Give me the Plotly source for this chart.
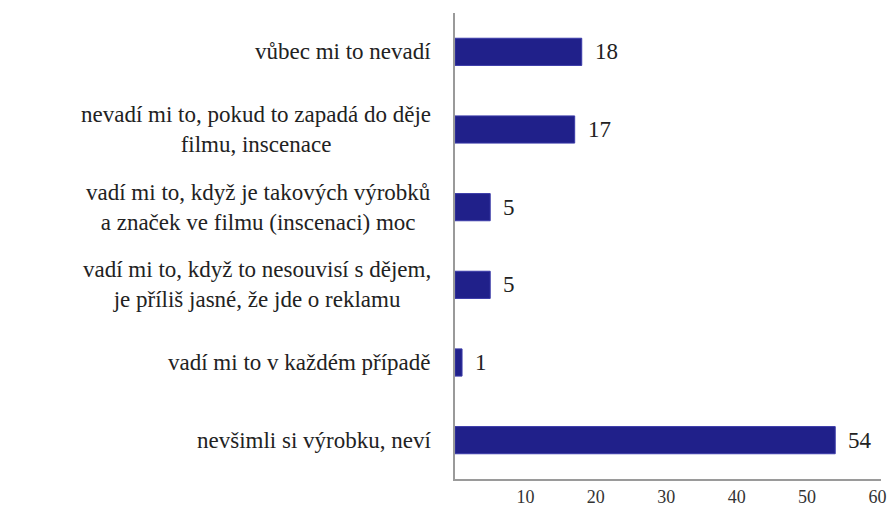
import plotly.graph_objects as go

categories = [
    "vůbec mi to nevadí",
    "nevadí mi to, pokud to zapadá do děje<br>filmu, inscenace",
    "vadí mi to, když je takových výrobků<br>a značek ve filmu (inscenaci) moc",
    "vadí mi to, když to nesouvisí s dějem,<br>je příliš jasné, že jde o reklamu",
    "vadí mi to v každém případě",
    "nevšimli si výrobku, neví",
]
values = [18, 17, 5, 5, 1, 54]
tick_vals = [10, 20, 30, 40, 50, 60]

BAR = "#20208a"
SERIF = "Liberation Serif, Times New Roman, serif"

fig = go.Figure(go.Bar(
    x=values, y=categories, orientation="h",
    marker=dict(color=BAR, line=dict(color="#3a3aa8", width=1)),
    width=0.35, hoverinfo="skip",
))

for c, v in zip(categories, values):
    fig.add_annotation(x=v, y=c, xref="x", yref="y", text=str(v), showarrow=False,
                       xanchor="left", xshift=11, font=dict(family=SERIF, size=23, color="#222"))
    fig.add_annotation(x=0, y=c, xref="paper", yref="y", text=c, showarrow=False,
                       xanchor="right", xshift=-22, align="center",
                       font=dict(family=SERIF, size=23, color="#222"))

fig.update_layout(
    width=893, height=506,
    margin=dict(l=455, r=12, t=13, b=27),
    paper_bgcolor="white", plot_bgcolor="white",
    showlegend=False,
    xaxis=dict(range=[0, 60.5], tickvals=tick_vals, showgrid=False, zeroline=False,
               showline=True, linecolor="#9a9a9a", linewidth=1.5, ticks="",
               ticklabelstandoff=1, automargin=False,
               tickfont=dict(family=SERIF, size=18, color="#333")),
    yaxis=dict(categoryorder="array", categoryarray=categories, autorange="reversed",
               showticklabels=False, showgrid=False, zeroline=False, automargin=False,
               showline=True, linecolor="#9a9a9a", linewidth=1.5, ticks=""),
)

fig.write_html(
    "out.html",
    config={"displayModeBar": False},
    post_script="document.body.style.margin='0';document.body.style.overflow='hidden';",
)
